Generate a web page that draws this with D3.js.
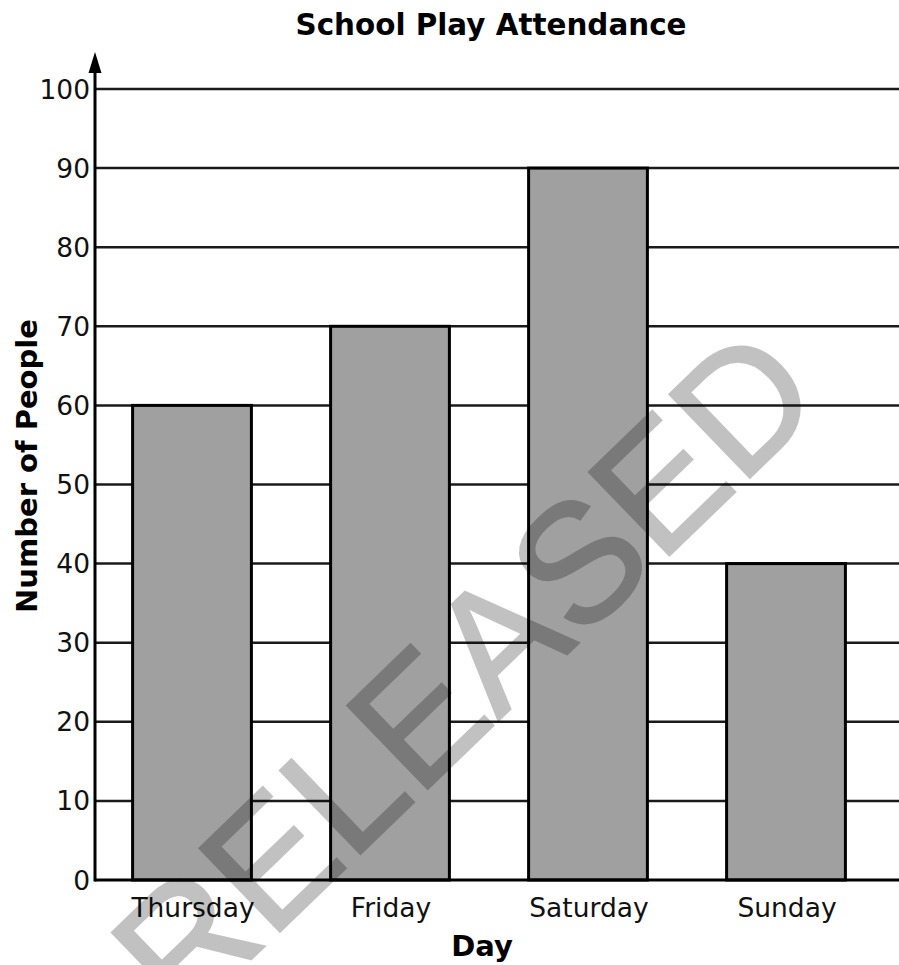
<!DOCTYPE html>
<html>
<head>
<meta charset="utf-8">
<script src="https://cdn.jsdelivr.net/npm/d3@7"></script>
<style>
  html, body { margin: 0; padding: 0; background: #fff; }
  svg { display: block; }
</style>
</head>
<body>
<script>
const categories = ["Thursday", "Friday", "Saturday", "Sunday"];
const values = [60, 70, 90, 40];
const yTicks = [0, 10, 20, 30, 40, 50, 60, 70, 80, 90, 100];
const title = "School Play Attendance";
const xTitle = "Day";
const yTitle = "Number of People";
const watermark = "RELEASED";

const W = 899, H = 965;
const svg = d3.select("body").append("svg").attr("width", W).attr("height", H);

const x = d3.scaleBand().domain(categories).range([93, 885]).paddingInner(0.4).paddingOuter(0.2);
const y = d3.scaleLinear().domain([0, 100]).range([880, 89]);
const axisX = 95;

// grid lines
svg.append("g").selectAll("line").data(yTicks.filter(t => t > 0)).join("line")
  .attr("x1", axisX).attr("x2", W)
  .attr("y1", d => y(d)).attr("y2", d => y(d))
  .attr("stroke", "#1a1a1a").attr("stroke-width", 2.5);

// bars
svg.append("g").selectAll("rect").data(values).join("rect")
  .attr("x", (d, i) => x(categories[i]))
  .attr("width", x.bandwidth())
  .attr("y", d => y(d))
  .attr("height", d => y(0) - y(d))
  .attr("fill", "#a0a0a0")
  .attr("stroke", "#000").attr("stroke-width", 3);

// x axis line
svg.append("line").attr("x1", axisX).attr("x2", W).attr("y1", y(0)).attr("y2", y(0))
  .attr("stroke", "#000").attr("stroke-width", 3);
// y axis line with arrow
svg.append("line").attr("x1", axisX).attr("x2", axisX).attr("y1", y(0) + 1.5).attr("y2", 66)
  .attr("stroke", "#000").attr("stroke-width", 3);
svg.append("path").attr("d", `M${axisX},52 L${axisX - 6.5},73 L${axisX + 6.5},73 Z`).attr("fill", "#000");

// y tick labels
svg.append("g").selectAll("text").data(yTicks).join("text")
  .attr("x", 90).attr("y", d => y(d) + 9.5)
  .attr("text-anchor", "end")
  .attr("font-family", "DejaVu Sans, Verdana, sans-serif")
  .attr("font-size", 26.5).attr("fill", "#111")
  .text(d => d);

// category labels
svg.append("g").selectAll("text").data(categories).join("text")
  .attr("x", d => x(d) + x.bandwidth() / 2 + 1).attr("y", 917)
  .attr("text-anchor", "middle")
  .attr("font-family", "DejaVu Sans, Verdana, sans-serif")
  .attr("font-size", 26.5).attr("fill", "#111")
  .text(d => d);

// titles
svg.append("text").attr("x", 491).attr("y", 35).attr("text-anchor", "middle")
  .attr("font-family", "DejaVu Sans, Verdana, sans-serif").attr("font-weight", "bold")
  .attr("font-size", 29.4).attr("fill", "#000").text(title);
svg.append("text").attr("x", 482).attr("y", 956).attr("text-anchor", "middle")
  .attr("font-family", "DejaVu Sans, Verdana, sans-serif").attr("font-weight", "bold")
  .attr("font-size", 29).attr("fill", "#000").text(xTitle);
svg.append("text").attr("transform", "translate(37,466) rotate(-90)").attr("text-anchor", "middle")
  .attr("font-family", "DejaVu Sans, Verdana, sans-serif").attr("font-weight", "bold")
  .attr("font-size", 29).attr("fill", "#000").text(yTitle);

// watermark
const wm = svg.append("g").attr("opacity", 0.24);
wm.append("text").attr("transform", "translate(505,714) rotate(-44)")
  .attr("text-anchor", "middle")
  .attr("font-family", "Liberation Sans, Arial, sans-serif")
  .attr("font-size", 168).attr("fill", "#000").attr("stroke", "#000").attr("stroke-width", 2.5)
  .text(watermark);
</script>
</body>
</html>
